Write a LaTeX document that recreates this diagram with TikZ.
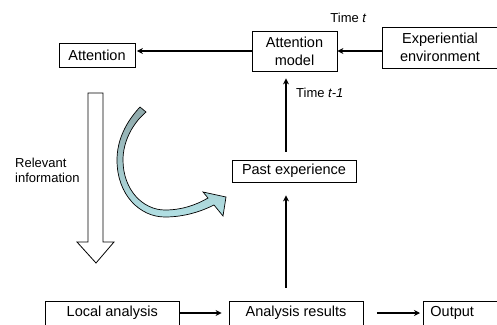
\documentclass[tikz,border=0pt]{standalone}
\usepackage{fontspec}
\setmainfont{Liberation Sans}
\usetikzlibrary{arrows.meta}
\definecolor{bandtop}{RGB}{143,168,170}
\definecolor{bandbot}{RGB}{178,224,228}
\tikzset{
  box/.style={draw=black, line width=0.8pt, inner sep=0pt, align=center,
    font=\fontsize{14.5}{18}\selectfont},
  arr/.style={line width=1.2pt, -{Stealth[length=6pt,width=6pt]}},
  lbl/.style={inner sep=0pt, font=\fontsize{13}{15.5}\selectfont},
  hollow/.style={draw=black, line width=0.8pt, fill=white, line join=miter},
  band/.style={draw=black, line width=0.7pt, top color=bandtop, bottom color=bandbot},
}
\begin{document}
\begin{tikzpicture}[x=1pt,y=-1pt]
\useasboundingbox (0,0) rectangle (497,324);
\begin{scope}
\clip (0,0) rectangle (497,324);

% boxes
\node[box, minimum width=76pt, minimum height=24pt] (att) at (97,55) {Attention};
\node[box, minimum width=85pt, minimum height=40pt] (am) at (294.5,51) {Attention\\model};
\node[box, minimum width=116pt, minimum height=41pt] (exp) at (440,47.5) {Experiential\\environment};
\node[box, minimum width=124pt, minimum height=22pt] (pe) at (294,171) {Past experience};
\node[box, minimum width=134.5pt, minimum height=24pt] (la) at (112.25,313) {Local analysis};
\node[box, minimum width=134pt, minimum height=24pt] (ar) at (296,313) {Analysis results};
\node[box, anchor=west, minimum height=24pt, text width=80pt, align=left, inner xsep=7pt] (out) at (423,313) {Output};

% labels
\node[lbl] (tt) at (348.5,17.5) {Time \textit{t}};
\node[lbl, anchor=west] (tt1) at (296,93) {Time \textit{t-1}};
\node[lbl, anchor=west, align=left] (rel) at (15,170.3) {Relevant\\information};

% connectors
\coordinate (vx) at (286,0);
\draw[arr, shorten >=1.5pt] (am.west) -- (att.east |- am.west);
\draw[arr] (exp.west |- am.west) -- (am.east);
\draw[arr, shorten <=8pt, shorten >=7pt] (pe.north -| vx) -- (am.south -| vx);
\draw[arr, shorten <=13pt, shorten >=13pt] (ar.north -| vx) -- (pe.south -| vx);
\draw[arr, shorten >=7pt] (la.east) -- (ar.west);
\draw[arr, shorten <=13.5pt, shorten >=3pt] (ar.east) -- (out.west);

% hollow block arrow for the relevant information
\path[hollow] (88,93) -- (103,93) -- (103,242) -- (114,242) -- (96,263)
  -- (77,242) -- (88,242) -- cycle;

% curved feedback arrow
\path[band] (140,107) .. controls (126,122) and (117,140) .. (117,160)
  .. controls (117,195) and (140,217) .. (165,217)
  .. controls (185,217) and (202,211) .. (214,205)
  -- (223,216) -- (226,197) -- (203,192) -- (208,198)
  .. controls (196,205) and (182,210) .. (165,210)
  .. controls (143,210) and (123,190) .. (123,160)
  .. controls (123,142) and (132,124) .. (146,112) -- cycle;
\end{scope}
\end{tikzpicture}
\end{document}
